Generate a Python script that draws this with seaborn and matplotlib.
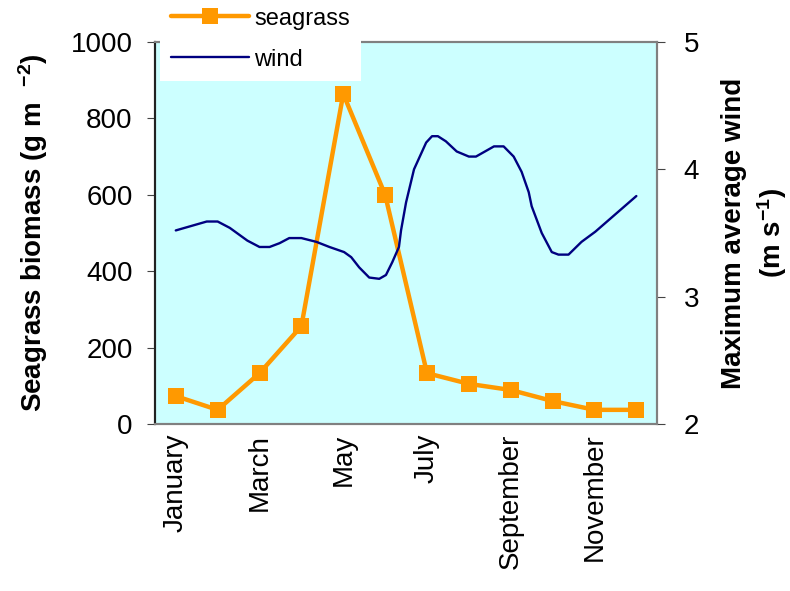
import numpy as np
import pandas as pd
import matplotlib
matplotlib.use("Agg")
import matplotlib.pyplot as plt
import seaborn as sns

months = ["January", "February", "March", "April", "May", "June", "July",
          "August", "September", "October", "November", "December"]
seagrass = [73, 37, 133, 256, 864, 600, 133, 105, 89, 60, 37, 37]

# wind curve (position in months, 0 = January)
wind_pos = [0, 0.74, 1.0, 1.29, 1.71, 2.0, 2.24, 2.48, 2.71, 3.0, 3.36, 3.67,
            4.02, 4.19, 4.38, 4.62, 4.86, 5.02, 5.17, 5.33, 5.38, 5.5, 5.69,
            5.98, 6.12, 6.26, 6.45, 6.71, 7.0, 7.17, 7.6, 7.83, 8.07, 8.26,
            8.43, 8.5, 8.74, 8.98, 9.14, 9.38, 9.69, 10.02, 11.0]
wind = [3.52, 3.59, 3.59, 3.54, 3.44, 3.39, 3.39, 3.42, 3.46, 3.46, 3.43, 3.39,
        3.35, 3.31, 3.23, 3.15, 3.14, 3.17, 3.27, 3.39, 3.52, 3.74, 4.00,
        4.21, 4.26, 4.26, 4.22, 4.14, 4.10, 4.10, 4.18, 4.18, 4.10, 3.98,
        3.82, 3.71, 3.50, 3.35, 3.33, 3.33, 3.43, 3.51, 3.79]

sg_df = pd.DataFrame({"m": np.arange(len(months)), "biomass": seagrass})
wind_df = pd.DataFrame({"m": wind_pos, "wind": wind})

sns.set_style("white")
plt.rcParams["font.family"] = ["Liberation Sans", "DejaVu Sans"]
plt.rcParams["mathtext.default"] = "regular"
plt.rcParams["text.color"] = "black"
plt.rcParams["axes.labelcolor"] = "black"
plt.rcParams["xtick.color"] = "black"
plt.rcParams["ytick.color"] = "black"

fig = plt.figure(figsize=(7.9, 5.91), dpi=100)
ax = fig.add_axes([0.196, 0.2826, 0.636, 0.6464])
ax.set_facecolor("#CCFFFF")

sns.lineplot(data=sg_df, x="m", y="biomass", ax=ax, color="#FF9900", lw=3.2,
             marker="s", markersize=11, markeredgewidth=0, label="seagrass",
             zorder=3)
ax2 = ax.twinx()
sns.lineplot(data=wind_df, x="m", y="wind", ax=ax2, color="#000080", lw=1.7,
             label="wind", zorder=2)

ax.set_xlim(-0.5, 11.5)
ax.set_ylim(0, 1000)
ax2.set_ylim(2, 5)
ax.set_yticks([0, 200, 400, 600, 800, 1000])
ax2.set_yticks([2, 3, 4, 5])
ax.set_xticks(range(0, 12, 2))
ax.set_xticklabels(months[::2], rotation=90, fontsize=20)
ax.tick_params(axis="y", labelsize=20, length=6, width=0.8, color="#444444", pad=10)
ax.tick_params(axis="x", length=0, pad=7)
ax2.tick_params(axis="y", labelsize=20, length=6, width=0.8, color="#444444", pad=13)

ax.set_xlabel("")
ax.set_ylabel(r"Seagrass biomass (g m  $^{-2}$)", fontsize=20, fontweight="bold",
              labelpad=15)
ax2.set_ylabel("Maximum average wind\n" + r"(m s$^{-1}$)", fontsize=20,
               fontweight="bold", rotation=90, labelpad=16, linespacing=1.3)

for a in (ax, ax2):
    for s in a.spines.values():
        s.set_color("#808080")
        s.set_linewidth(1.5)
ax2.spines["left"].set_color("#222222")
ax.spines["left"].set_color("#222222")

ax.get_legend().remove()
ax2.get_legend().remove()
h1, l1 = ax.get_legend_handles_labels()
h2, l2 = ax2.get_legend_handles_labels()
leg = fig.legend(h1 + h2, l1 + l2, loc="upper left",
                 bbox_to_anchor=(160 / 790, 1.005), fontsize=17, frameon=True,
                 fancybox=False, edgecolor="white", facecolor="white",
                 framealpha=1, handlelength=3.3, labelspacing=0.8,
                 borderpad=0.45, handletextpad=0.25, borderaxespad=0)
leg.get_frame().set_linewidth(0)

fig.savefig("out.png", dpi=100)
